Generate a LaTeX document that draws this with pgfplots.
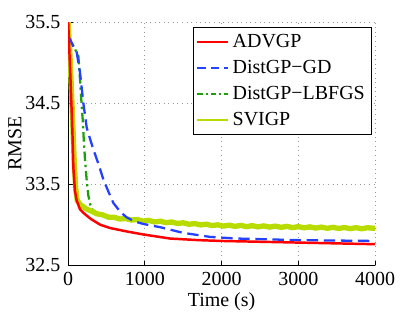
\documentclass[border=0pt]{standalone}
\usepackage{fontspec}
\setmainfont{Liberation Serif}
\usepackage{pgfplots}
\pgfplotsset{compat=1.18}
\definecolor{cRed}{RGB}{255,0,0}
\definecolor{cBlue}{RGB}{35,65,255}
\definecolor{cGreen}{RGB}{30,160,10}
\definecolor{cYel}{RGB}{185,220,0}
\newcommand{\ff}{\rmfamily\fontsize{10.5}{12.6}\selectfont}
\begin{document}
\begin{tikzpicture}[font=\ff]
\begin{axis}[
  at={(0,0)}, anchor=south west,
  scale only axis,
  width=161.6pt, height=127.9pt,
  xmin=0, xmax=4000, ymin=32.5, ymax=35.5,
  xtick={0,1000,2000,3000,4000},
  xticklabels={\mbox{\ff 0},\mbox{\ff 1000},\mbox{\ff 2000},\mbox{\ff 3000},\mbox{\ff 4000}},
  ytick={32.5,33.5,34.5,35.5},
  yticklabels={\mbox{\ff 32.5},\mbox{\ff 33.5},\mbox{\ff 34.5},\mbox{\ff 35.5}},
  tick label style={font=\ff},
  label style={font=\ff},
  axis x line*=bottom, axis y line*=left,
  axis line style={line width=0.5pt},
  tick align=inside, major tick length=2.5pt,
  tick style={black, line width=0.4pt},
  grid=major, major grid style={dotted, gray!80, line width=0.5pt},
  xlabel={Time (s)}, ylabel={RMSE},
  xlabel style={at={(axis description cs:0.5,-0.15)}, anchor=center},
  ylabel style={at={(axis description cs:-0.173,0.5)}, anchor=center},
  yticklabel style={xshift=-0.5pt},
  legend cell align=left,
  legend style={at={(0.99,0.98)}, anchor=north east, draw=black, line width=0.6pt,
    font=\ff, inner sep=1.5pt, row sep=1.2pt,
    legend image code/.code={\draw[#1] (0cm,0cm) -- (0.56cm,0cm);}},
]
\addlegendimage{cRed, line width=1.2pt}
\addlegendentry{ADVGP}
\addlegendimage{cBlue, line width=1.2pt, dash pattern=on 4.5pt off 2.5pt}
\addlegendentry{DistGP−GD}
\addlegendimage{cGreen, line width=1.2pt, dash pattern=on 3pt off 1.5pt on 1pt off 1.5pt}
\addlegendentry{DistGP−LBFGS}
\addlegendimage{cYel, line width=1.2pt}
\addlegendentry{SVIGP}

% DistGP-LBFGS
\addplot[cGreen, line width=1.2pt, dash pattern=on 5pt off 2pt on 1.2pt off 2pt, forget plot] coordinates {
(0,35.3) (30,35.27) (69,35.21) (100,35.15) (134,35.09) (156,34.8) (178,34.47) (191,34.3)
(205,34.05) (221,33.81) (243,33.55) (265,33.36) (290,33.25) (308,33.2) (350,33.16)
(550,33.08) (1000,33.04) (2000,32.98) (3000,32.96) (4000,32.95)
};
% SVIGP
\addplot[cYel, line width=2.8pt, forget plot] coordinates {
(0,35.55) (30,35.0) (60,34.3) (80,33.8) (100,33.45) (120,33.3) (160,33.25) (200,33.22) (250,33.19)
(300,33.17) (375,33.135) (450,33.122) (525,33.094) (600,33.092) (675,33.071) (750,33.077)
(825,33.058) (900,33.065) (975,33.045) (1050,33.054) (1125,33.035) (1200,33.044)
(1275,33.026) (1350,33.034) (1425,33.016) (1500,33.024) (1575,33.006) (1650,33.015)
(1725,32.998) (1800,33.007) (1875,32.99) (1950,32.999) (2025,32.984) (2100,32.995)
(2175,32.98) (2250,32.992) (2325,32.977) (2400,32.989) (2475,32.974) (2550,32.986)
(2625,32.971) (2700,32.983) (2775,32.968) (2850,32.98) (2925,32.965) (3000,32.977)
(3075,32.962) (3150,32.974) (3225,32.959) (3300,32.971) (3375,32.956) (3450,32.968)
(3525,32.954) (3600,32.966) (3675,32.952) (3750,32.964) (3825,32.95) (3900,32.963)
(4000,32.955)
};
% DistGP-GD
\addplot[cBlue, line width=1.2pt, dash pattern=on 6pt off 3pt, forget plot] coordinates {
(0,35.32) (26,35.29) (70,35.2) (113,35.13) (156,34.88) (200,34.5) (243,34.2) (290,34.05)
(330,33.93) (400,33.74) (460,33.56) (530,33.4) (590,33.27) (680,33.16) (765,33.09)
(870,33.04) (981,33.01) (1199,32.97) (1500,32.9) (1850,32.85) (2200,32.83) (2600,32.82)
(3000,32.81) (3500,32.805) (4000,32.8)
};
% ADVGP
\addplot[cRed, line width=1.3pt, forget plot] coordinates {
(0,35.55) (30,34.85) (56,34.18) (70,33.7) (90,33.42) (113,33.3) (156,33.19) (221,33.13)
(300,33.07) (420,33.0) (547,32.96) (750,32.92) (981,32.88) (1329,32.83) (1700,32.81)
(2000,32.8) (2500,32.79) (3000,32.78) (3500,32.77) (4000,32.76)
};
\end{axis}
\useasboundingbox (-35.8pt,-24.2pt) rectangle (182.6pt,139.6pt);
\end{tikzpicture}
\end{document}
